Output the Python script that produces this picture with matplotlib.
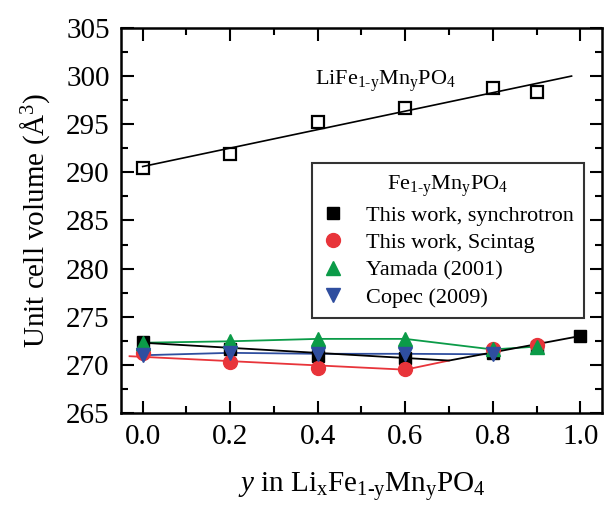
import numpy as np
import matplotlib
matplotlib.use("Agg")
import matplotlib.pyplot as plt

plt.rcParams['font.family'] = ['Liberation Serif', 'DejaVu Serif']
plt.rcParams['mathtext.fontset'] = 'custom'
plt.rcParams['mathtext.rm'] = 'Liberation Serif'
plt.rcParams['mathtext.it'] = 'Liberation Serif:italic'

# LiFe(1-y)Mn(y)PO4, open squares + linear fit
y_li = [0.0, 0.2, 0.4, 0.6, 0.8, 0.9]
v_li = [290.5, 291.9, 295.2, 296.7, 298.8, 298.35]

# Fe(1-y)Mn(y)PO4 data sets
y_sync = [0.0, 0.2, 0.4, 0.6, 0.8, 0.9, 1.0]
v_sync = [272.4, 271.7, 270.9, 270.75, 271.2, 271.9, 273.0]
y_scin = [0.0, 0.2, 0.4, 0.6, 0.8, 0.9]
v_scin = [271.2, 270.25, 269.7, 269.6, 271.7, 272.1]
y_yam = [0.0, 0.2, 0.4, 0.6, 0.8, 0.9]
v_yam = [272.3, 272.45, 272.7, 272.7, 271.6, 271.9]
y_cop = [0.0, 0.2, 0.4, 0.6, 0.8]
v_cop = [271.0, 271.25, 271.15, 271.15, 271.1]

# guide lines drawn through the synchrotron and Scintag data
y_sync_guide = [0.0, 0.7, 1.0]
v_sync_guide = [272.3, 270.45, 273.0]
y_scin_guide = [-0.03, 0.6, 0.7]
v_scin_guide = [270.9, 269.5, 270.45]

red = '#e8343a'
green = '#0b9b48'
blue = '#2f4e9f'

fig = plt.figure(figsize=(6.04, 5.07), dpi=100)
ax = fig.add_axes([0.200, 0.1854, 0.797, 0.7594])

# linear fit of LiFe1-yMnyPO4
p = np.polyfit(y_li, v_li, 1)
xf = np.array([0.0, 0.98])
ax.plot(xf, np.polyval(p, xf), color='black', lw=1.2)
ax.plot(y_li, v_li, 's', mfc='none', mec='black', mew=1.6, ms=8)

# lines
ax.plot(y_scin_guide, v_scin_guide, color=red, lw=1.3)
ax.plot(y_yam, v_yam, color=green, lw=1.3)
ax.plot(y_cop, v_cop, color=blue, lw=1.3)
ax.plot(y_sync_guide, v_sync_guide, color='black', lw=1.3)

# markers
ax.plot(y_sync, v_sync, 's', color='black', ms=8, ls='none',
        label='This work, synchrotron')
ax.plot(y_scin, v_scin, 'o', color=red, ms=10, ls='none',
        label='This work, Scintag')
ax.plot(y_yam, v_yam, '^', color=green, ms=10, ls='none',
        label='Yamada (2001)')
ax.plot(y_cop, v_cop, 'v', color=blue, ms=10, ls='none',
        label='Copec (2009)')

ax.text(0.555, 299.5, r'LiFe$_{\mathrm{1\text{-}y}}$Mn$_\mathrm{y}$PO$_4$',
        fontsize=16, ha='center', va='center')

leg = ax.legend(loc='upper right', bbox_to_anchor=(0.962, 0.649),
                borderaxespad=0, fontsize=16, frameon=True, fancybox=False,
                edgecolor='black', handlelength=1.0, handletextpad=1.0,
                labelspacing=0.3, borderpad=0.45,
                title=r'Fe$_{\mathrm{1\text{-}y}}$Mn$_\mathrm{y}$PO$_4$',
                title_fontsize=16)
leg.get_frame().set_linewidth(1.5)

ax.set_xlim(-0.05, 1.05)
ax.set_ylim(265, 305)
ax.set_xticks(np.arange(0, 1.01, 0.2))
ax.set_xticks(np.arange(0.1, 1.01, 0.2), minor=True)
ax.set_yticks(np.arange(265, 305.1, 5))
ax.set_yticks(np.arange(267.5, 305, 5), minor=True)
ax.xaxis.set_major_formatter(matplotlib.ticker.FormatStrFormatter('%.1f'))
ax.tick_params(which='both', direction='in', top=True, right=True,
               labelsize=21, width=1.5)
ax.tick_params(which='major', length=9, pad=8)
ax.tick_params(which='minor', length=5)
for s in ax.spines.values():
    s.set_linewidth(1.8)

ax.set_xlabel(r'$y$ in Li$_\mathrm{x}$Fe$_{\mathrm{1\text{-}y}}$Mn$_\mathrm{y}$PO$_4$',
              fontsize=21, labelpad=14)
ax.set_ylabel('Unit cell volume (Å$^3$)', fontsize=21, labelpad=10)

fig.savefig('out.png', dpi=100)
